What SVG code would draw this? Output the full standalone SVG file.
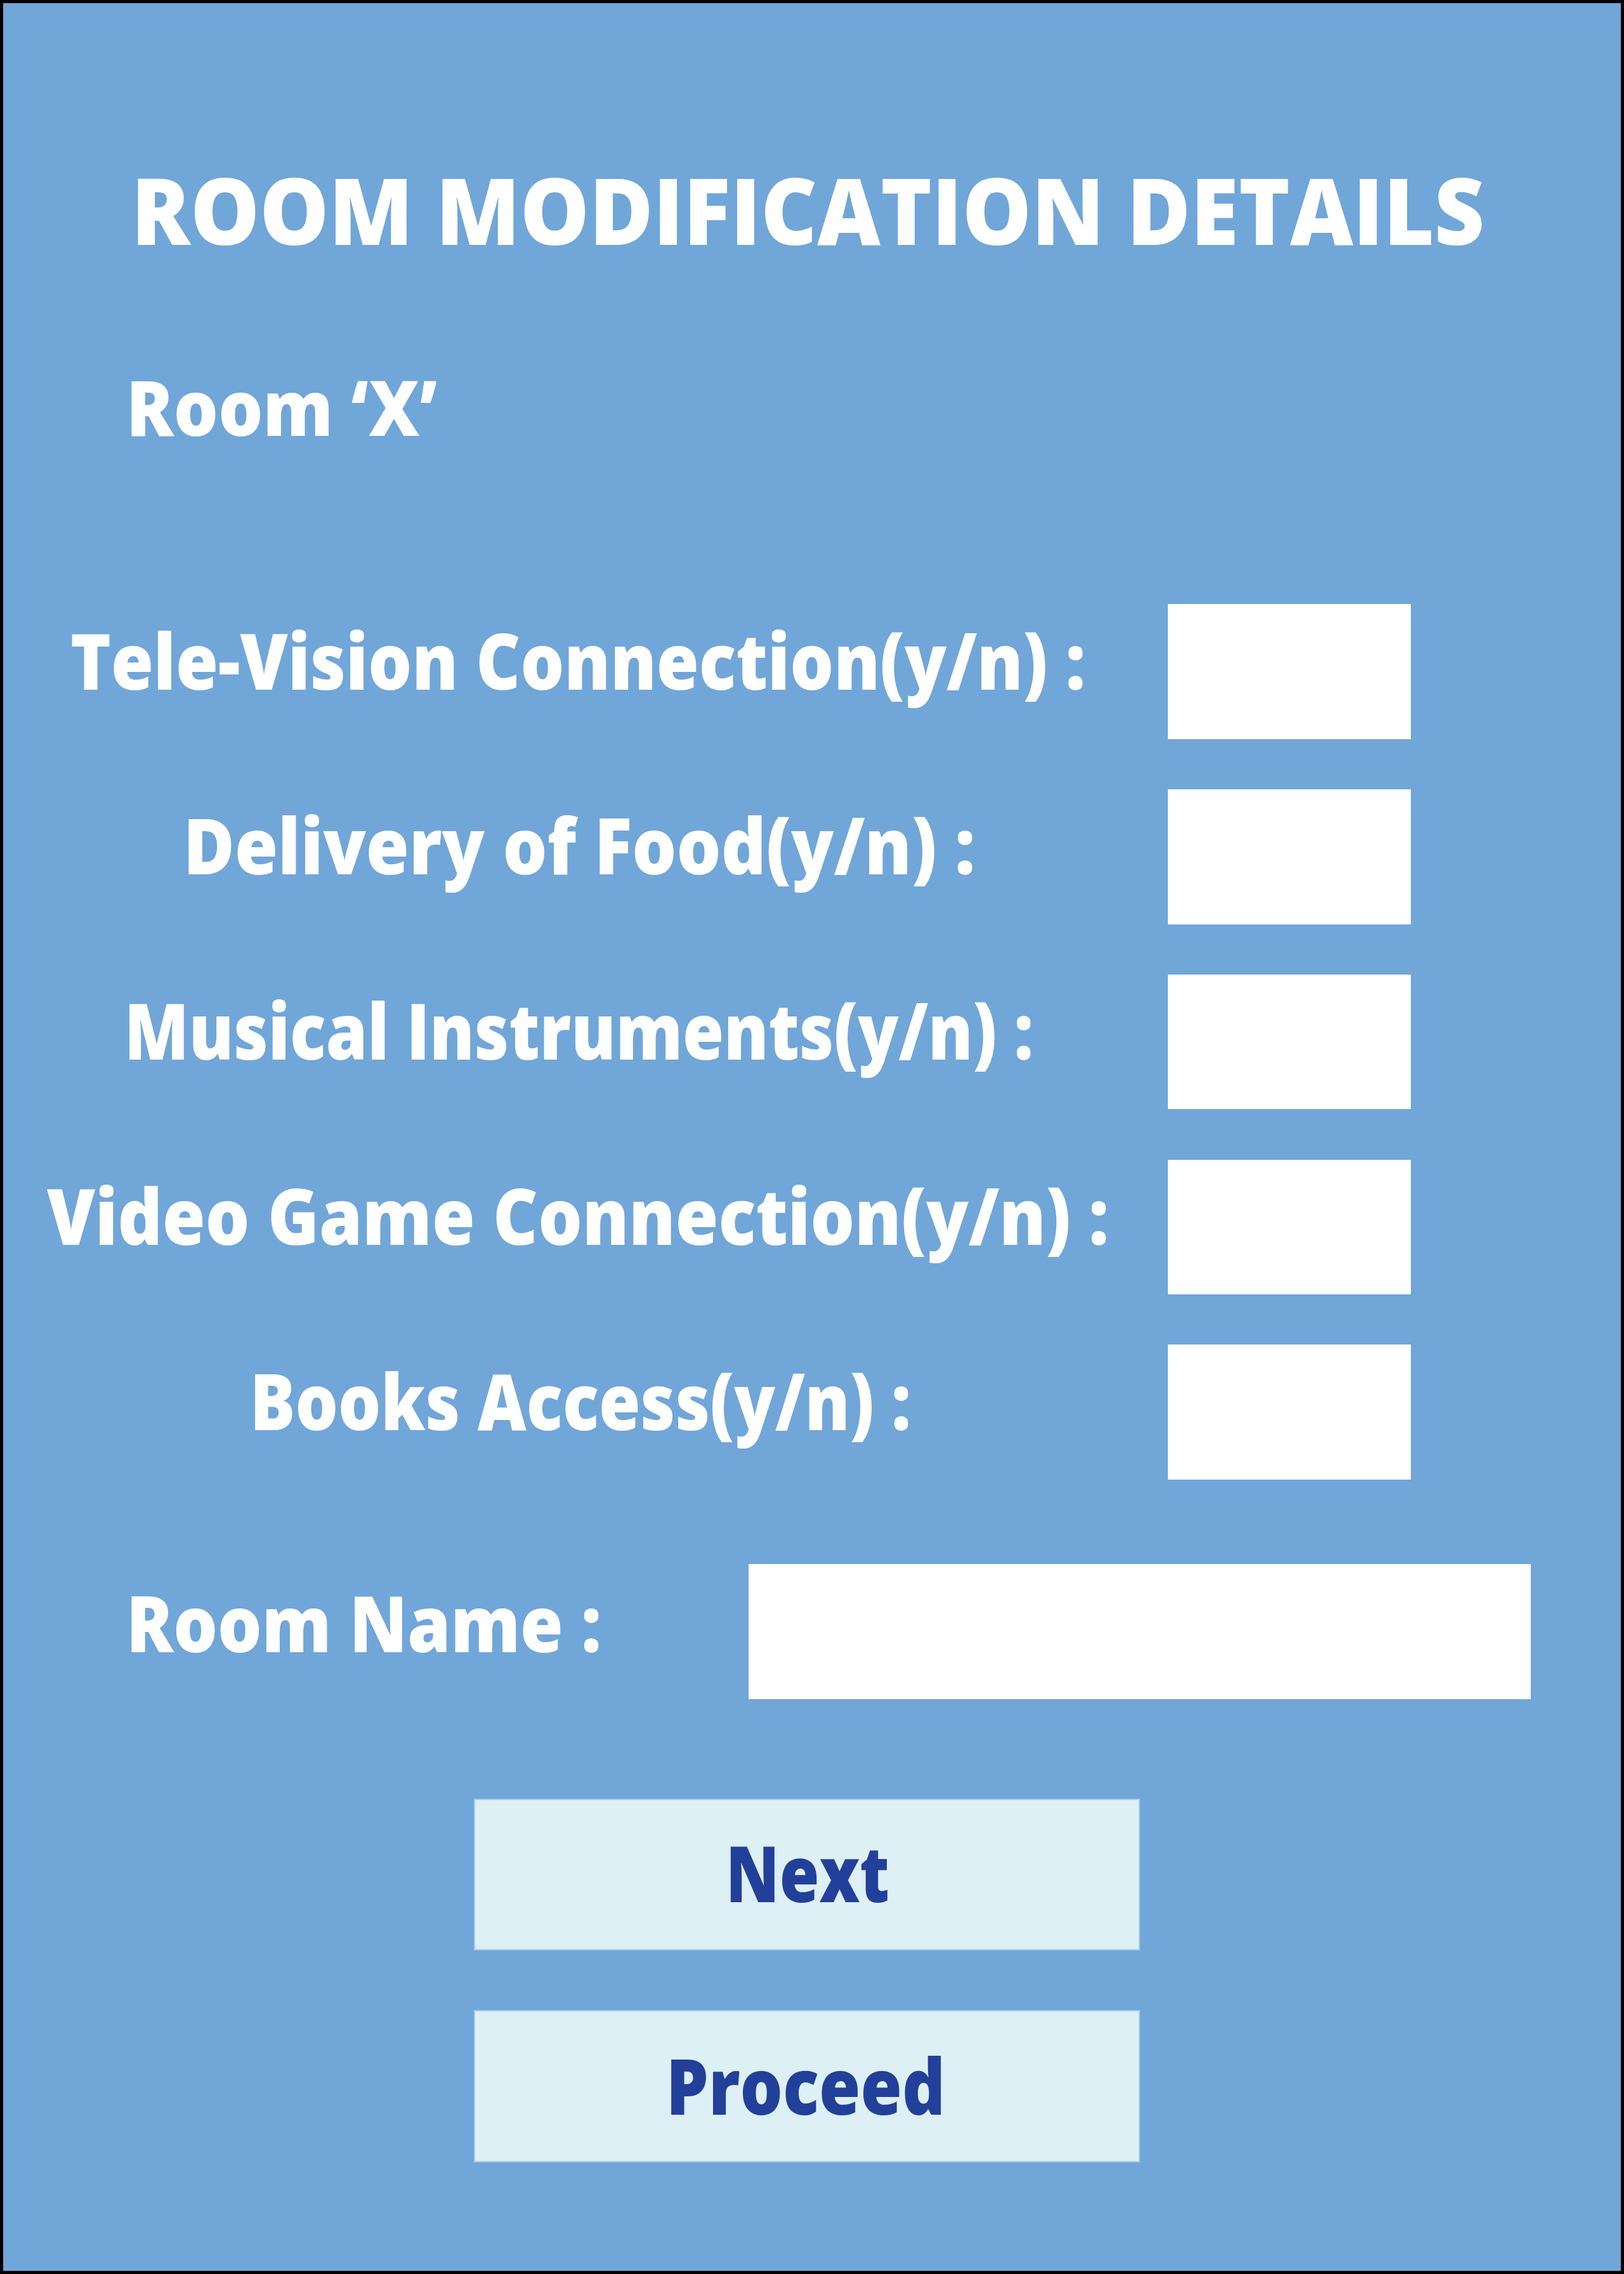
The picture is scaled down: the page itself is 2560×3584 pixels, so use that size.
<svg xmlns="http://www.w3.org/2000/svg" width="2560" height="3584" viewBox="0 0 2560 3584">
<style>
.lbl{font-family:"Open Sans","Liberation Sans",sans-serif;font-weight:800;fill:#FFFFFF;}
.field{fill:#FFFFFF;}
.btn{fill:#DDF0F5;stroke:#A9CBE8;stroke-width:2;}
.btntxt{font-family:"Open Sans","Liberation Sans",sans-serif;font-weight:800;fill:#22409A;font-size:122px;}
</style>
<rect id="frame" x="0" y="0" width="2560" height="3584" fill="#71A6D9" stroke="#000000" stroke-width="10"/>
<g id="title">
<text class="lbl" x="207" y="386" font-size="146" textLength="2133" lengthAdjust="spacingAndGlyphs">ROOM MODIFICATION DETAILS</text>
</g>
<g id="room-x">
<text class="lbl" x="199" y="687" font-size="120" textLength="490" lengthAdjust="spacingAndGlyphs">Room ‘X’</text>
</g>
<g id="tv">
<text class="lbl" x="111" y="1087" font-size="122" textLength="1600" lengthAdjust="spacingAndGlyphs">Tele-Vision Connection(y/n) :</text>
<rect class="field" x="1841" y="952" width="383" height="213"/>
</g>
<g id="food">
<text class="lbl" x="289" y="1378" font-size="122" textLength="1248" lengthAdjust="spacingAndGlyphs">Delivery of Food(y/n) :</text>
<rect class="field" x="1841" y="1244" width="383" height="213"/>
</g>
<g id="music">
<text class="lbl" x="196" y="1670" font-size="122" textLength="1433" lengthAdjust="spacingAndGlyphs">Musical Instruments(y/n) :</text>
<rect class="field" x="1841" y="1536" width="383" height="212"/>
</g>
<g id="videogame">
<text class="lbl" x="74" y="1962" font-size="122" textLength="1674" lengthAdjust="spacingAndGlyphs">Video Game Connection(y/n) :</text>
<rect class="field" x="1841" y="1828" width="383" height="212"/>
</g>
<g id="books">
<text class="lbl" x="394" y="2254" font-size="122" textLength="1042" lengthAdjust="spacingAndGlyphs">Books Access(y/n) :</text>
<rect class="field" x="1841" y="2119" width="383" height="213"/>
</g>
<g id="roomname">
<text class="lbl" x="199" y="2604" font-size="122" textLength="749" lengthAdjust="spacingAndGlyphs">Room Name :</text>
<rect class="field" x="1180" y="2465" width="1233" height="213"/>
</g>
<g id="next">
<rect class="btn" x="748" y="2836" width="1048" height="237"/>
<text class="btntxt" x="1144" y="2998" textLength="258" lengthAdjust="spacingAndGlyphs">Next</text>
</g>
<g id="proceed">
<rect class="btn" x="748" y="3169" width="1048" height="238"/>
<text class="btntxt" x="1050" y="3333" textLength="440" lengthAdjust="spacingAndGlyphs">Proceed</text>
</g>
<g id="connectors"></g>
</svg>
